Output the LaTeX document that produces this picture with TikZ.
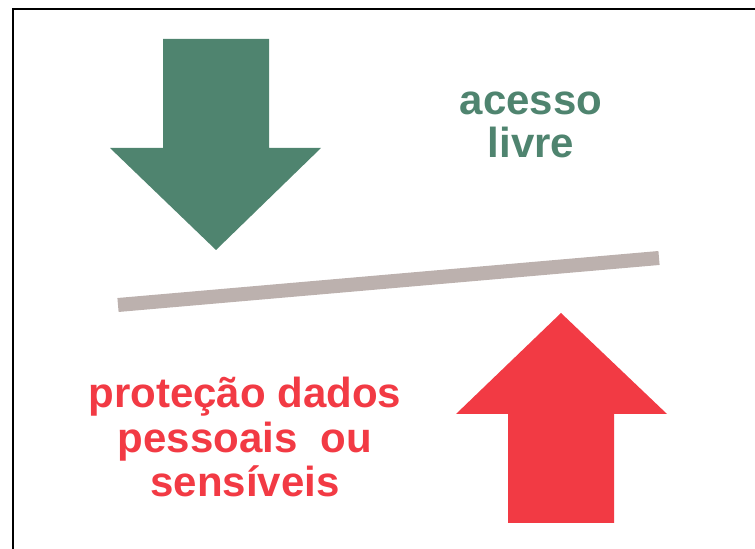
\documentclass[tikz,border=0pt]{standalone}
\usepackage{tkz-euclide}
\usepackage{fontspec}
\setmainfont{Liberation Sans}
\definecolor{greenarrow}{HTML}{4F846F}
\definecolor{redarrow}{HTML}{F23A44}
\definecolor{greybar}{HTML}{BCB1AE}
\tikzset{bigword/.style={anchor=base, align=center, inner sep=0pt}}

\begin{document}
\begin{tikzpicture}
\useasboundingbox (0,0) rectangle (15.1,10.98);
% frame
\tkzDefPoints{0.26/0/K1, 0.26/10.8/K2, 15.2/10.8/K3}
\draw[line width=0.6pt] (K1) -- (K2) -- (K3);
% green arrow down
\tkzDefPoints{3.26/10.2/A, 5.38/10.2/B, 5.38/8.02/C, 6.42/8.02/D, 4.32/5.98/E, 2.2/8.02/F, 3.26/8.02/G}
\tkzFillPolygon[fill=greenarrow](A,B,C,D,E,F,G)
% red arrow up
\tkzDefPoints{11.22/4.72/P, 13.34/2.7/Q, 12.28/2.7/R, 12.28/0.52/S, 10.16/0.52/T, 10.16/2.7/U, 9.12/2.7/V}
\tkzFillPolygon[fill=redarrow](P,Q,R,S,T,U,V)
% balance bar
\tkzDefPoints{2.36/4.88/L, 13.18/5.82/M}
\tkzDrawSegment[color=greybar, line width=0.28cm, line cap=butt](L,M)
\node[bigword, text=greenarrow, font=\fontsize{23.9pt}{24.5pt}\selectfont\bfseries] (acesso) at (10.62,7.82) {acesso\\livre};
\node[bigword, text=redarrow, font=\fontsize{23.9pt}{25.6pt}\selectfont\bfseries] (protecao) at (4.9,1.04) {proteção dados\\pessoais\ \ ou\\sensíveis};
\end{tikzpicture}
\end{document}
